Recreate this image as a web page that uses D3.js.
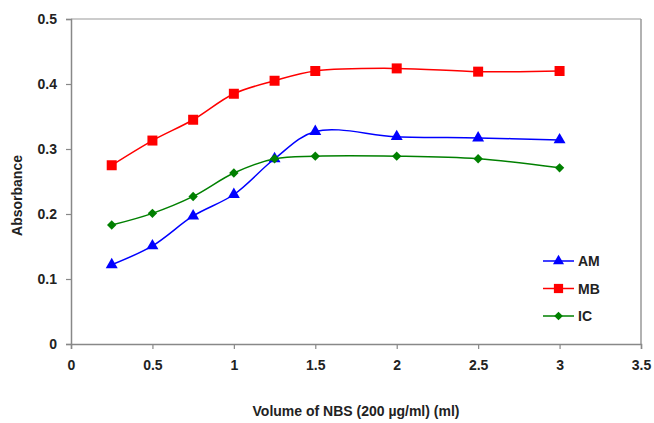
<!DOCTYPE html>
<html><head><meta charset="utf-8">
<script src="https://cdn.jsdelivr.net/npm/d3@7"></script>
<style>body{margin:0;background:#fff;} text{font-family:Arial,"Liberation Sans",sans-serif;}</style>
</head><body>
<svg id="chart" width="654" height="423"></svg>
<script>
const volumes = [0.25, 0.5, 0.75, 1, 1.25, 1.5, 2, 2.5, 3];
const amValues = [0.122, 0.151, 0.197, 0.230, 0.285, 0.327, 0.319, 0.317, 0.314];
const mbValues = [0.275, 0.313, 0.345, 0.385, 0.405, 0.420, 0.424, 0.419, 0.420];
const icValues = [0.183, 0.201, 0.227, 0.263, 0.285, 0.289, 0.289, 0.285, 0.271];
const seriesNames = ["AM", "MB", "IC"];
const xTicks = [0, 0.5, 1, 1.5, 2, 2.5, 3, 3.5];
const yTicks = [0, 0.1, 0.2, 0.3, 0.4, 0.5];

const squareDiamond = {
  draw(ctx, size) {
    const r = Math.sqrt(size / 2);
    ctx.moveTo(0, -r); ctx.lineTo(r, 0); ctx.lineTo(0, r); ctx.lineTo(-r, 0); ctx.closePath();
  }
};

const series = [
  {name: seriesNames[0], values: amValues, color: "#0000ff", shape: d3.symbolTriangle, size: 62},
  {name: seriesNames[1], values: mbValues, color: "#ff0000", shape: d3.symbolSquare, size: 100},
  {name: seriesNames[2], values: icValues, color: "#008000", shape: squareDiamond, size: 44}
];

const svg = d3.select("#chart");
const L = 71, R = 641, T = 19, B = 344;
const x = d3.scaleLinear().domain([0, 3.5]).range([L, R]);
const y = d3.scaleLinear().domain([0, 0.5]).range([B, T]);

// plot area border
svg.append("line").attr("x1", L).attr("x2", R).attr("y1", T).attr("y2", T)
  .attr("stroke", "#bbb").attr("stroke-width", 1.5);
svg.append("line").attr("x1", R).attr("x2", R).attr("y1", T).attr("y2", B)
  .attr("stroke", "#999").attr("stroke-width", 1.5);

const xAxis = svg.append("g").attr("transform", `translate(0,${B})`)
  .call(d3.axisBottom(x).tickValues(xTicks).tickSize(5).tickPadding(11).tickFormat(d3.format("")));
const yAxis = svg.append("g").attr("transform", `translate(${L},0)`)
  .call(d3.axisLeft(y).tickValues(yTicks).tickSize(5).tickPadding(9).tickFormat(d3.format("")));
[xAxis, yAxis].forEach(g => {
  g.select(".domain").attr("stroke", "#888").attr("stroke-width", 1.5);
  g.selectAll(".tick line").attr("stroke", "#888").attr("stroke-width", 1.2);
  g.selectAll(".tick text").attr("font-size", 14).attr("font-weight", "bold").attr("fill", "#222")
    .attr("font-family", "Arial, 'Liberation Sans', sans-serif");
});

const line = d3.line().x(d => x(d[0])).y(d => y(d[1])).curve(d3.curveCatmullRom.alpha(0.5));

series.forEach(s => {
  const pts = volumes.map((v, i) => [v, s.values[i]]);
  svg.append("path").datum(pts).attr("d", line).attr("fill", "none")
    .attr("stroke", s.color).attr("stroke-width", 1.5);
  svg.append("g").selectAll("path").data(pts).join("path")
    .attr("transform", d => `translate(${x(d[0])},${y(d[1])})`)
    .attr("d", d3.symbol().type(s.shape).size(s.size)).attr("fill", s.color);
});

// legend
const legend = svg.append("g");
series.forEach((s, i) => {
  const ly = 261 + i * 27.5;
  legend.append("line").attr("x1", 543).attr("x2", 574).attr("y1", ly).attr("y2", ly)
    .attr("stroke", s.color).attr("stroke-width", 1.5);
  legend.append("path").attr("transform", `translate(558.5,${ly})`)
    .attr("d", d3.symbol().type(s.shape).size(s.size * 0.85)).attr("fill", s.color);
  legend.append("text").attr("x", 578).attr("y", ly).attr("dy", "0.36em")
    .attr("font-size", 14).attr("font-weight", "bold").attr("fill", "#222").text(s.name);
});

svg.append("text").attr("x", (L + R) / 2).attr("y", 416).attr("text-anchor", "middle")
  .attr("font-size", 14).attr("font-weight", "bold").attr("fill", "#222")
  .text("Volume of NBS (200 µg/ml) (ml)");
svg.append("text").attr("transform", `translate(22,${(T + B) / 2 + 14}) rotate(-90)`)
  .attr("text-anchor", "middle").attr("font-size", 14).attr("font-weight", "bold").attr("fill", "#222")
  .text("Absorbance");
</script>
</body></html>
